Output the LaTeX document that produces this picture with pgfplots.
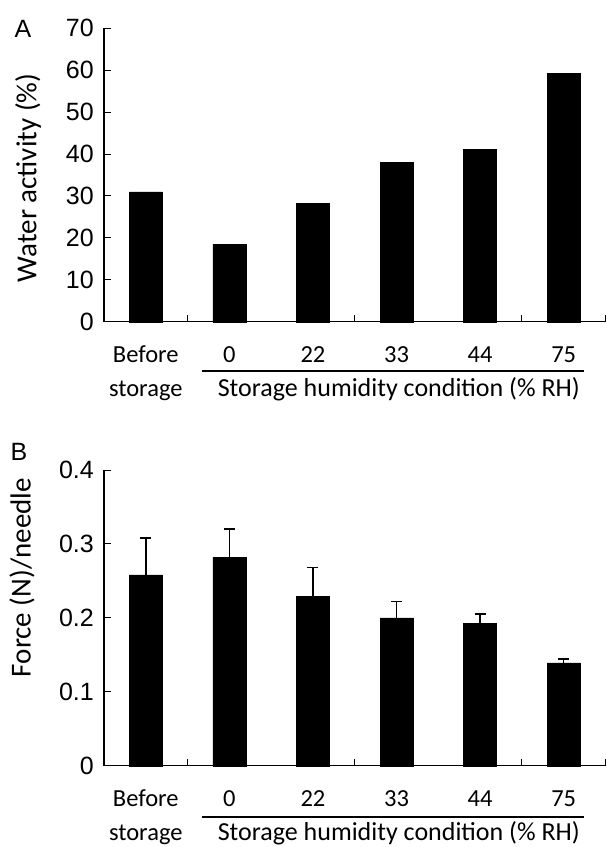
\documentclass[border=0pt]{standalone}
\usepackage{fontspec}
\usepackage{pgfplots}
\usepackage{pgfplotstable}
\pgfplotsset{compat=1.18}
\setmainfont{Carlito}
\newfontfamily\cf{Carlito}
\newfontfamily\lf{Liberation Sans}

\pgfplotstableread{
x y
0 31.0
1 18.5
2 28.2
3 38.0
4 41.2
5 59.2
}\wateract

\pgfplotstableread{
x y e
0 0.258 0.050
1 0.282 0.038
2 0.229 0.039
3 0.200 0.022
4 0.193 0.012
5 0.139 0.0055
}\force

\pgfplotsset{
  panel/.style={
    scale only axis,
    width=501.5pt,
    xmin=-0.5, xmax=5.5, ymin=0,
    axis x line*=bottom, axis y line*=left,
    axis line style={line width=1pt, -},
    tick style={line width=1pt, black},
    tick align=inside,
    major tick length=7pt,
    ytick pos=left,
    xtick={0.5,2.5,4.5,5.5},
    xticklabels={},
    extra x ticks={0,1,2,3,4,5},
    extra x tick labels={Before,0,22,33,44,75},
    extra x tick style={major tick length=0pt},
    xticklabel style={anchor=base, yshift=-41pt, font=\cf\fontsize{24.5}{29}\selectfont},
    yticklabel style={font=\lf\fontsize{25}{30}\selectfont, inner sep=0pt, xshift=-10pt},
    /pgf/number format/assume math mode=true,
    clip=false,
  },
  barstyle/.style={ybar, bar width=33pt, bar shift=0pt, fill=black, draw=black},
}

\begin{document}
\begin{tikzpicture}
\path[use as bounding box] (0pt,0pt) rectangle (606pt,-847pt);

% Panel A
\begin{axis}[panel,
  at={(104pt,-321.7pt)}, anchor=south west,
  height=293.4pt, ymax=70,
  ytick={0,10,...,70},
]
\addplot[barstyle] table[x=x,y=y]{\wateract};
\draw[line width=1.8pt] ([yshift=-49.3pt]axis cs:0.67,0) -- ([yshift=-49.3pt]axis cs:5.245,0);
\node[anchor=base, font=\cf\fontsize{24.5}{29}\selectfont] at ([yshift=-75pt]axis cs:0,0) {storage};
\node[anchor=base, font=\cf\fontsize{26}{30}\selectfont] at ([yshift=-75pt]axis cs:3.027,0) {Storage humidity condition (\% RH)};
\node[rotate=90, anchor=center, font=\cf\fontsize{29}{34}\selectfont] at ([xshift=-76pt]rel axis cs:0,0.49) {Water activity (\%)};
\end{axis}

% Panel B
\begin{axis}[panel,
  at={(104pt,-765.7pt)}, anchor=south west,
  height=295.7pt, ymax=0.4,
  ytick={0,0.1,0.2,0.3,0.4},
  yticklabels={0,0.1,0.2,0.3,0.4},
]
\addplot[barstyle,
  error bars/.cd, y dir=plus, y explicit,
  error bar style={line width=1.5pt, black},
  error mark options={rotate=90, mark size=5.5pt, line width=1.5pt, black}]
  table[x=x,y=y,y error=e]{\force};
\draw[line width=1.8pt] ([yshift=-51pt]axis cs:0.67,0) -- ([yshift=-51pt]axis cs:5.245,0);
\node[anchor=base, font=\cf\fontsize{24.5}{29}\selectfont] at ([yshift=-75pt]axis cs:0,0) {storage};
\node[anchor=base, font=\cf\fontsize{26}{30}\selectfont] at ([yshift=-75pt]axis cs:3.027,0) {Storage humidity condition (\% RH)};
\node[rotate=90, anchor=center, font=\cf\fontsize{29}{34}\selectfont] at ([xshift=-82pt]rel axis cs:0,0.636) {Force (N)/needle};
\end{axis}

\node[font=\lf\fontsize{25}{30}\selectfont] at (23pt,-29pt) {A};
\node[font=\lf\fontsize{25}{30}\selectfont] at (19pt,-452pt) {B};
\end{tikzpicture}
\end{document}
